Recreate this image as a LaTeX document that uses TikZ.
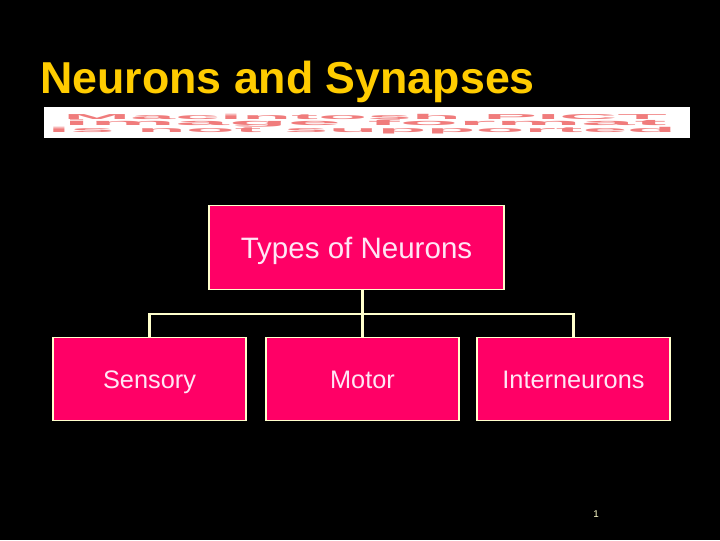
\documentclass[tikz,border=0pt]{standalone}
\usepackage{fontspec}
\setmainfont{Liberation Sans}
\usepackage{xcolor}
\usepackage{tikz}
\usetikzlibrary{positioning}
\definecolor{titleyellow}{HTML}{FFCC00}
\definecolor{boxpink}{HTML}{FF0066}
\definecolor{boxtext}{HTML}{FFE6F5}
\definecolor{linecream}{HTML}{FFFFCC}
\definecolor{pictred}{HTML}{F07C7C}
\tikzset{
  typebox/.style={draw=linecream,line width=0.9pt,fill=boxpink,minimum width=4.825cm,minimum height=2.075cm,inner sep=0pt,text height=12.9pt,text depth=0pt,font=\fontsize{18}{20}\selectfont,text=boxtext},
  treeline/.style={draw=linecream,line width=1.7pt},
  pictline/.style={inner sep=0pt,text=pictred,font=\bfseries},
}

\begin{document}
\begin{tikzpicture}[x=0.025cm,y=-0.025cm]
        \fill[black] (0,0) rectangle (720,540);
        % title and missing picture
        \node[anchor=base west,inner sep=0pt,text=titleyellow,font=\fontsize{31.8}{34}\selectfont\bfseries] (title) at (40,93) {Neurons and Synapses};
        \node[fill=white,minimum width=16.15cm,minimum height=0.775cm,inner sep=0pt] (pict) at (367,122.5) {};
        \node[pictline] (pict1) at (365,116.5) {\resizebox{15.08cm}{0.13cm}{Macintosh PICT}};
        \node[pictline] (pict2) at (365,123.5) {\resizebox{15.08cm}{0.14cm}{image format}};
        \node[pictline] (pict3) at (362,130.5) {\resizebox{15.7cm}{0.13cm}{is not supported}};
        % tree
        \node[typebox,minimum width=7.375cm,minimum height=2.1cm,text height=15pt,font=\fontsize{21}{24}\selectfont] (types) at (356.5,247.5) {Types of Neurons};
        \node[typebox] (sensory) at (149.5,379) {Sensory};
        \node[typebox] (motor) at (362.5,379) {Motor};
        \node[typebox] (inter) at (573.5,379) {Interneurons};
        \coordinate (bus) at (362.5,314);
        \draw[treeline] (types.south -| bus) -- (motor.north);
        \draw[treeline] (bus) -| (sensory.north); \draw[treeline] (bus) -| (inter.north);
        \node[text=linecream,font=\fontsize{7}{8}\selectfont] (page) at (596,514) {1};
      \end{tikzpicture}
\end{document}
